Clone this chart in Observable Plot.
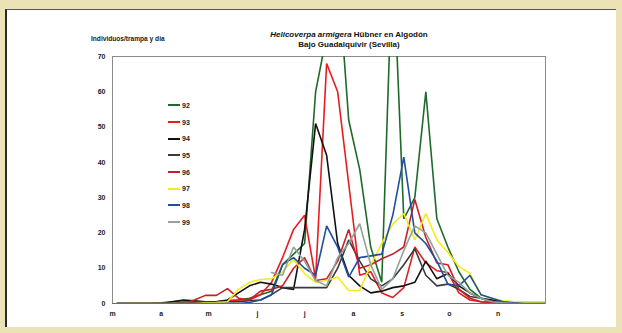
<!DOCTYPE html>
<html>
<head>
<meta charset="utf-8">
<script src="https://cdn.jsdelivr.net/npm/d3@7"></script>
<script src="https://cdn.jsdelivr.net/npm/@observablehq/plot@0.6"></script>
<style>
  html, body { margin: 0; padding: 0; }
  body { width: 622px; height: 333px; overflow: hidden; position: relative; background: #ebe3b6; font-family: "Liberation Sans", Arial, sans-serif; }
  #panel { position: absolute; left: 5px; top: 9px; width: 611px; height: 318px; background: #fff; border-left: 2px solid #2a2a2a; border-top: 1px solid #555; box-sizing: border-box; }
  #chart { position: absolute; left: 0; top: 0; }
  #title { position: absolute; left: 249px; width: 200px; top: 30px; text-align: center; font-size: 8px; font-weight: bold; line-height: 9.5px; color: #111; }
  #ylab { position: absolute; left: 91px; top: 35px; font-size: 6.6px; font-weight: bold; color: #222; }
  #legend { position: absolute; left: 168px; top: 97px; font-size: 7px; font-weight: bold; color: #222; }
  .row { display: flex; align-items: center; height: 16.7px; }
  .sw { width: 12px; height: 0; border-top: 2px solid; margin-right: 2px; }
</style>
</head>
<body>
<div id="panel"></div>
<div id="chart"></div>
<div id="title"><i>Helicoverpa armigera</i> Hübner en Algodón<br>Bajo Guadalquivir (Sevilla)</div>
<div id="ylab">Individuos/trampa y dia</div>
<div id="legend"></div>
<script>
// Series (weekly trap catches, individuals/trap/day), week 0 = early March
const years = ["92", "93", "94", "95", "96", "97", "98", "99"];
const colors = ["#1f6a2a", "#e81c1f", "#111111", "#3a3a3a", "#c8202a", "#f4ec1c", "#1f4f9e", "#8fa59c"];
const s92 = [0,0,0,0,0.2,0.5,0.8,0.5,0.3,0.5,0.8,1,1.5,2.5,3.5,11,14,17,60,76,95,52,38,16,6,100,24,30,60,24,16,9,4,1.5,0.5,0.2,0,0,0,0];
const s93 = [0,0,0,0,0,0,0.2,0.3,0.5,0.5,0.8,1,1,2.5,6,13,21,25,7,68,60,34,8,9,3,1.7,4.5,16,11.5,9.3,8.8,3,1,0.5,0.3,0.2,0,0,0,0];
const s94 = [0,0,0,0,0,0.5,1,0.8,0.5,0.5,1,3,5,6,5.5,4.5,4,21,51,42,17,8,5,3,3.5,4.5,5,6,12,7,8.5,5,3,1.5,1,0.5,0.2,0,0,0];
const s95 = [0,0,0,0,0,0,0.3,0.5,0.5,0.5,0.5,0.5,0.8,1,2.5,4.5,4.5,4.5,4.5,4.5,10,18,12,7,5,7,11,15.5,8,5,5.5,4,2,1.5,0.5,0.2,0,0,0,0];
const s96 = [0,0,0,0,0,0,0,1,2.3,2.3,4.2,1.5,1,3.5,4,5,10,13,6.5,7,12,21,10,11,12.7,14,16,29.5,18.7,11.5,11,4,1.5,0.5,0.3,0.3,0.3,0.3,0.3,0.3];
const s97 = [0,0,0,0,0,0,0,0,0.2,0.3,0.5,4,6,6.8,7,9,12.5,8.5,6,6.5,7.5,3.7,3.7,11,17,22.5,25.5,18,25.5,18,14.5,10.5,8.5,2.5,1.5,0.8,0.5,0.3,0.2,0.2];
const s98 = [0,0,0,0,0,0,0,0,0,0,0,0,0.3,1,2.5,11,13,10,8,22,16,7.5,13,13.5,14,25,41.5,20,17,12,5.5,5,8,2.5,1.5,0.5,0.2,0,0,0];
const s99 = [null,null,null,null,null,null,null,null,null,null,null,null,null,null,8.8,8,16,12,6.5,5,13,17,22.6,11,4,7,15,22,20,14,8,6,3,1.5,0.5,0.2,0,0,0,0];
const series = [s92, s93, s94, s95, s96, s97, s98, s99];
const monthLabels = ["m", "a", "m", "j", "j", "a", "s", "o", "n"];
const yTicks = [0, 10, 20, 30, 40, 50, 60, 70];

const DAY = 864e5;
const start = Date.UTC(1992, 2, 4);
const rows = [];
years.forEach((yr, i) => series[i].forEach((v, w) => {
  if (v != null) rows.push({year: yr, date: new Date(start + w * 7 * DAY), value: v});
}));
const monthTicks = monthLabels.map((_, i) => new Date(Date.UTC(1992, 2 + i, 1)));

const chart = Plot.plot({
  width: 622,
  height: 333,
  marginLeft: 112,
  marginRight: 77,
  marginTop: 56,
  marginBottom: 30,
  style: {background: "transparent", fontFamily: "Liberation Sans, Arial, sans-serif", fontSize: "7px", fontWeight: "bold", color: "#222"},
  x: {type: "utc", domain: [new Date(Date.UTC(1992, 2, 1)), new Date(Date.UTC(1992, 11, 1))], ticks: monthTicks,
      tickFormat: (d) => monthLabels[d.getUTCMonth() - 2], tickSize: 0, tickPadding: 8, label: null},
  y: {domain: [0, 70], ticks: yTicks, tickSize: 0, tickPadding: 7, label: null},
  color: {domain: years, range: colors},
  marks: [
    Plot.frame({stroke: "#8c8c8c", strokeWidth: 1}),
    Plot.line(rows, {x: "date", y: "value", z: "year", stroke: "year", strokeWidth: 1.6, clip: true, strokeLinejoin: "miter"}),
    Plot.ruleY([0], {stroke: "#6d6a80", strokeWidth: 1.2})
  ]
});
document.getElementById("chart").appendChild(chart);

const leg = document.getElementById("legend");
years.forEach((yr, i) => {
  const r = document.createElement("div");
  r.className = "row";
  r.innerHTML = `<span class="sw" style="border-color:${colors[i]}"></span><span>${yr}</span>`;
  leg.appendChild(r);
});
</script>
</body>
</html>
